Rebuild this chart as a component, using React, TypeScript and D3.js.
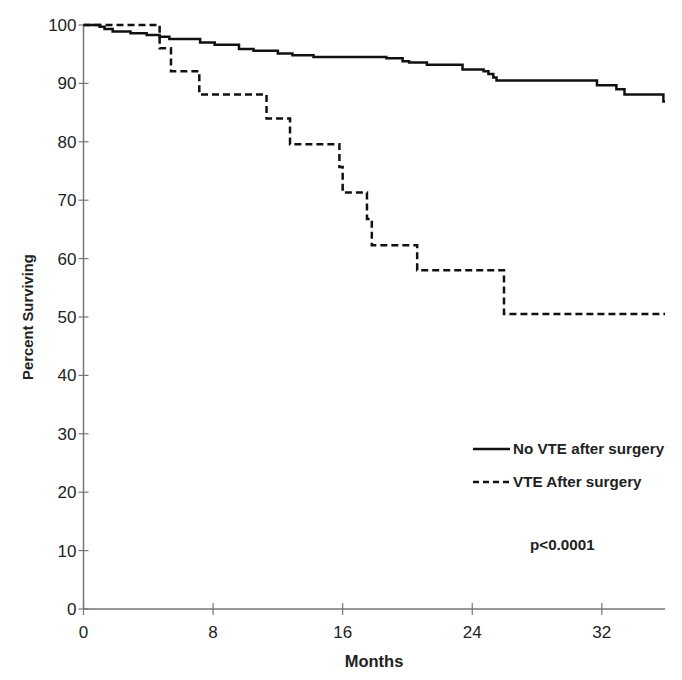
import React from "react";
import * as d3 from "d3";

const noVteTimes = [0, 1.0, 1.3, 1.8, 2.9, 3.9, 4.7, 5.3, 7.2, 8.1, 9.6, 10.5, 12.0, 12.9, 14.2, 18.7, 19.7, 20.1, 21.2, 23.4, 24.7, 25.0, 25.3, 25.5, 31.7, 32.9, 33.4, 35.8, 35.9];
const noVteValues = [100, 99.7, 99.3, 98.9, 98.6, 98.3, 98.0, 97.6, 97.0, 96.6, 95.9, 95.6, 95.1, 94.8, 94.5, 94.3, 93.8, 93.6, 93.2, 92.4, 92.1, 91.6, 91.0, 90.5, 89.7, 89.0, 88.1, 86.9, 86.9];

const vteTimes = [0, 4.7, 5.4, 7.15, 11.3, 12.75, 15.8, 16.0, 17.5, 17.8, 20.6, 25.96, 35.9];
const vteValues = [100, 96.0, 92.1, 88.1, 84.0, 79.6, 75.7, 71.3, 66.8, 62.3, 58.0, 50.5, 50.5];

const xTicks = [0, 8, 16, 24, 32];
const yTicks = [0, 10, 20, 30, 40, 50, 60, 70, 80, 90, 100];
const seriesNames = ["No VTE after surgery", "VTE After surgery"];
const pText = "p<0.0001";

export default function App() {
  const W = 682, H = 680;
  const left = 83.5, right = 665, top = 25, bottom = 609;
  const x = d3.scaleLinear().domain([0, 36]).range([left, left + (right - left) * 36 / 35.9]);
  const y = d3.scaleLinear().domain([0, 100]).range([bottom, top]);
  const line = d3.line<[number, number]>().x(d => x(d[0])).y(d => y(d[1])).curve(d3.curveStepAfter);
  const noVte: [number, number][] = noVteTimes.map((t, i) => [t, noVteValues[i]]);
  const vte: [number, number][] = vteTimes.map((t, i) => [t, vteValues[i]]);
  const axisColor = "#777";
  const font = "Liberation Sans, Arial, sans-serif";
  return (
    <svg width={W} height={H} style={{ position: "absolute", left: 0, top: 0, background: "#fff" }} fontFamily={font}>
      <rect width={W} height={H} fill="#fff" />
      <line x1={left} x2={left} y1={top} y2={bottom} stroke={axisColor} strokeWidth={1.5} />
      <line x1={left} x2={right} y1={bottom} y2={bottom} stroke={axisColor} strokeWidth={1.5} />
      {yTicks.map(t => (
        <g key={"y" + t}>
          <line x1={left - 5} x2={left + 5} y1={y(t)} y2={y(t)} stroke={axisColor} strokeWidth={1.2} />
          <text x={left - 7} y={y(t)} dy="0.35em" textAnchor="end" fontSize={17} fill="#222">{t}</text>
        </g>
      ))}
      {xTicks.map(t => (
        <g key={"x" + t}>
          <line x1={x(t)} x2={x(t)} y1={bottom - 6} y2={bottom + 6} stroke={axisColor} strokeWidth={1.2} />
          <text x={x(t)} y={bottom + 23} dy="0.35em" textAnchor="middle" fontSize={17} fill="#222">{t}</text>
        </g>
      ))}
      <text x={374} y={661} dy="0.35em" textAnchor="middle" fontSize={16.5} fontWeight="bold" fill="#222">Months</text>
      <text transform={`translate(28,${(top + bottom) / 2}) rotate(-90)`} dy="0.35em" textAnchor="middle" fontSize={14.8} fontWeight="bold" fill="#222">Percent Surviving</text>
      <path d={line(vte) || ""} fill="none" stroke="#111" strokeWidth={2.5} strokeDasharray="7,4" />
      <path d={line(noVte) || ""} fill="none" stroke="#111" strokeWidth={2.5} />
      <line x1={473} x2={510} y1={449} y2={449} stroke="#111" strokeWidth={2.5} />
      <text x={513} y={449} dy="0.35em" fontSize={15.2} fontWeight="bold" fill="#222">{seriesNames[0]}</text>
      <line x1={473} x2={510} y1={482} y2={482} stroke="#111" strokeWidth={2.5} strokeDasharray="6,4" />
      <text x={513} y={482} dy="0.35em" fontSize={15.2} fontWeight="bold" fill="#222">{seriesNames[1]}</text>
      <text x={530} y={545} dy="0.35em" fontSize={15.2} fontWeight="bold" fill="#222">{pText}</text>
    </svg>
  );
}
